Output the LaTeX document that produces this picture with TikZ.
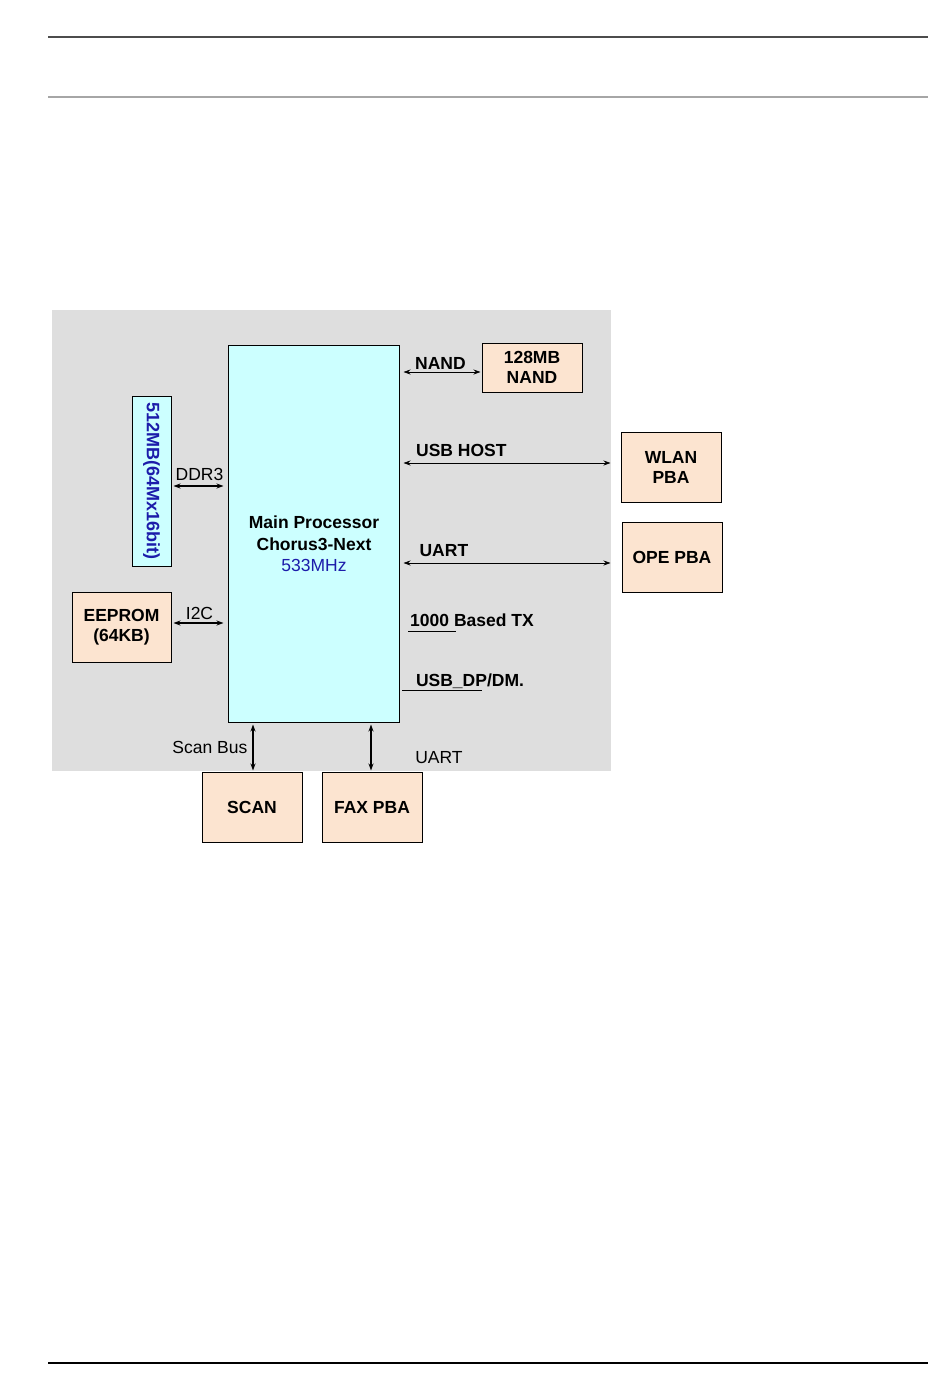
\documentclass[tikz,border=0pt]{standalone}
\usepackage{fontspec}
\setmainfont{Liberation Sans}
\usetikzlibrary{arrows.meta}

\definecolor{bggray}{RGB}{222,222,222}
\definecolor{cpucyan}{RGB}{204,255,255}
\definecolor{peach}{RGB}{252,228,208}
\definecolor{txtblue}{RGB}{28,28,170}

\tikzset{
	blk/.style={draw=black, line width=1pt, fill=peach, align=center, font=\fontsize{17.5}{20}\selectfont\bfseries, inner sep=0pt},
	cpu/.style={draw=black, line width=1pt, fill=cpucyan, align=center, inner sep=0pt},
	arr/.style={{Stealth[length=7pt,width=5pt]}-{Stealth[length=7pt,width=5pt]}, line width=0.8pt},
	thick arr/.style={arr, line width=1.4pt},
	bl/.style={font=\fontsize{17.5}{20}\selectfont\bfseries, inner sep=1pt},
	rl/.style={font=\fontsize{17.5}{20}\selectfont, inner sep=1pt}
}

\begin{document}
\begin{tikzpicture}[x=1pt, y=-1pt]
	\useasboundingbox (0, 0) rectangle (950, 1387);
	% page rules
	\draw[line width=2pt, black!70] (48, 37) -- (928, 37);
	\draw[line width=2pt, black!35] (48, 97) -- (928, 97);
	\draw[line width=1.5pt, black] (48, 1363) -- (928, 1363);
	% grey board
	\fill[bggray] (52, 310) rectangle (611, 771);

	\node[cpu, minimum width=171pt, minimum height=377pt] (main) at (313.5, 533.5) {};
	\node[align=center, font=\fontsize{17.5}{21.5}\selectfont] (cputxt) at (314, 544)
		{\textbf{Main Processor}\\ \textbf{Chorus3-Next}\\ \textcolor{txtblue}{533MHz}};
	\node[cpu, minimum width=39pt, minimum height=170pt] (mem) at (151.5, 481) {};
	\node[rotate=-90, text=txtblue, font=\fontsize{18}{20}\selectfont\bfseries] (memtxt) at (mem.center) {512MB(64Mx16bit)};
	\node[blk, minimum width=99pt, minimum height=70pt] (eeprom) at (121.5, 627) {EEPROM\\(64KB)};
	\node[blk, minimum width=100pt, minimum height=49pt] (nand) at (532, 367.5) {128MB\\NAND};
	\node[blk, minimum width=100pt, minimum height=70pt] (wlan) at (671, 467) {WLAN\\PBA};
	\node[blk, minimum width=100pt, minimum height=70pt] (ope) at (672, 557) {OPE PBA};
	\node[blk, minimum width=100pt, minimum height=70pt] (scan) at (252, 807) {SCAN};
	\node[blk, minimum width=100pt, minimum height=70pt] (fax) at (372, 807) {FAX PBA};

	\draw[thick arr, shorten <=2pt, shorten >=4pt] ([yshift=-5pt]mem.east) -- ([yshift=-5pt]mem.east -| main.west) node[midway, above, rl, yshift=4pt]{DDR3};
	\draw[thick arr, shorten <=2pt, shorten >=4pt] ([yshift=4pt]eeprom.east) -- ([yshift=4pt]eeprom.east -| main.west) node[midway, above, rl, yshift=2pt]{I2C};
	\draw[arr, shorten <=4pt, shorten >=1pt] ([yshift=-4.5pt]nand.west -| main.east) -- ([yshift=-4.5pt]nand.west) node[midway, above, bl, yshift=1pt]{NAND};
	\draw[arr, shorten <=4pt, shorten >=10pt] ([yshift=4pt]wlan.west -| main.east) -- ([yshift=4pt]wlan.west) node[pos=0.28, above, bl, yshift=5pt]{USB HOST};
	\draw[arr, shorten <=4pt, shorten >=11pt] ([yshift=-6pt]ope.west -| main.east) -- ([yshift=-6pt]ope.west) node[pos=0.2, above, bl, yshift=5pt]{UART};
	\draw[thick arr, shorten <=2pt, shorten >=1pt] ([xshift=1pt]scan.north |- main.south) -- ([xshift=1pt]scan.north) node[midway, left, rl, xshift=-4pt]{Scan Bus};
	\draw[thick arr, shorten <=2pt, shorten >=1pt] ([xshift=-1pt]fax.north |- main.south) -- ([xshift=-1pt]fax.north);
	\node[rl] (faxuart) at (439, 758) {UART};

	% ethernet and usb device lines
	\coordinate (gbeA) at (408, 631);
	\coordinate (gbeB) at (456, 631);
	\node[bl] (gbe) at (472, 620) {1000 Based TX};
	\draw[line width=1pt] (gbeA) -- (gbeB);
	\coordinate (usbA) at (402, 690);
	\coordinate (usbB) at (482, 690);
	\node[bl] (usbd) at (470, 681) {USB\_DP/DM.};
	\draw[line width=1pt] (usbA) -- (usbB);
\end{tikzpicture}
\end{document}
